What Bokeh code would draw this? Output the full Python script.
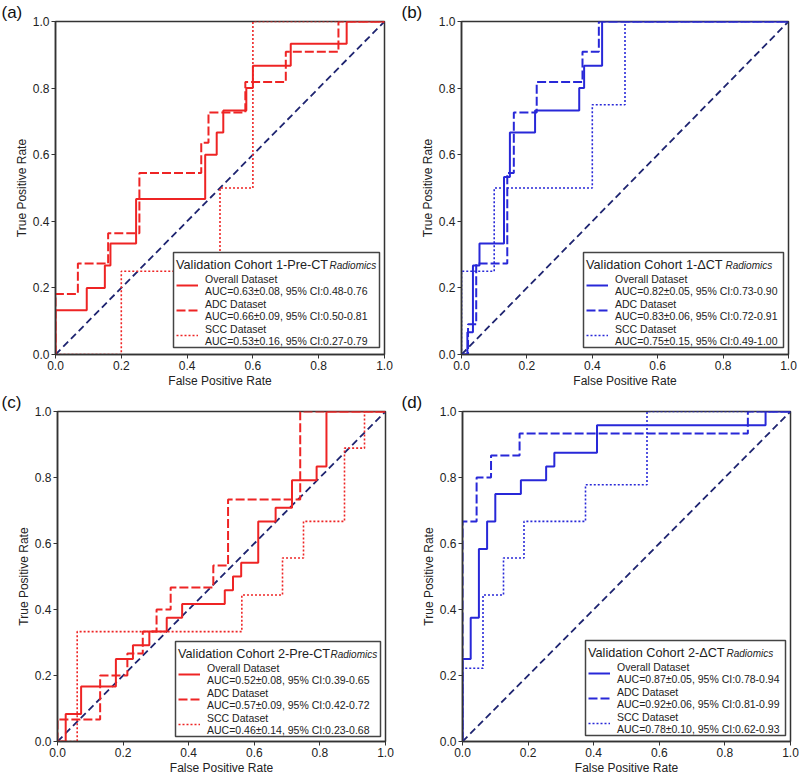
from bokeh.plotting import figure
from bokeh.layouts import column, row
from bokeh.models import (Legend, LegendItem, Label, FixedTicker, PrintfTickFormatter,
                          Range1d, BoxAnnotation)
from bokeh.embed import file_html
from bokeh.resources import INLINE

# ---------------- data (ROC step curves) ----------------
# Panel (a) Validation Cohort 1 - Pre-CT
a_overall_fpr = [0, 0, 0.095, 0.095, 0.15, 0.15, 0.167, 0.167, 0.245, 0.245, 0.455, 0.455, 0.49, 0.49, 0.51, 0.51, 0.58, 0.58, 0.6, 0.6, 0.715, 0.715, 0.885, 0.885, 1.0]
a_overall_tpr = [0, 0.133, 0.133, 0.2, 0.2, 0.267, 0.267, 0.333, 0.333, 0.467, 0.467, 0.6, 0.6, 0.667, 0.667, 0.733, 0.733, 0.8, 0.8, 0.867, 0.867, 0.933, 0.933, 1.0, 1.0]
a_adc_fpr = [0, 0, 0.068, 0.068, 0.16, 0.16, 0.255, 0.255, 0.443, 0.443, 0.465, 0.465, 0.577, 0.577, 0.7, 0.7, 0.86, 0.86, 1.0]
a_adc_tpr = [0, 0.182, 0.182, 0.273, 0.273, 0.364, 0.364, 0.545, 0.545, 0.636, 0.636, 0.727, 0.727, 0.818, 0.818, 0.909, 0.909, 1.0, 1.0]
a_scc_fpr = [0, 0.2, 0.2, 0.5, 0.5, 0.6, 0.6, 1.0]
a_scc_tpr = [0, 0, 0.25, 0.25, 0.5, 0.5, 1.0, 1.0]

# Panel (b) Validation Cohort 1 - Delta-CT
b_overall_fpr = [0, 0.018, 0.018, 0.035, 0.035, 0.055, 0.055, 0.13, 0.13, 0.148, 0.148, 0.225, 0.225, 0.36, 0.36, 0.375, 0.375, 0.43, 0.43, 1.0]
b_overall_tpr = [0, 0, 0.067, 0.067, 0.267, 0.267, 0.333, 0.333, 0.533, 0.533, 0.667, 0.667, 0.733, 0.733, 0.8, 0.8, 0.867, 0.867, 1.0, 1.0]
b_adc_fpr = [0, 0.02, 0.02, 0.045, 0.045, 0.14, 0.14, 0.16, 0.16, 0.23, 0.23, 0.37, 0.37, 0.42, 0.42, 1.0]
b_adc_tpr = [0, 0, 0.091, 0.091, 0.273, 0.273, 0.545, 0.545, 0.727, 0.727, 0.818, 0.818, 0.909, 0.909, 1.0, 1.0]
b_scc_fpr = [0, 0, 0.1, 0.1, 0.4, 0.4, 0.5, 0.5, 1.0]
b_scc_tpr = [0, 0.25, 0.25, 0.5, 0.5, 0.75, 0.75, 1.0, 1.0]

# Panel (c) Validation Cohort 2 - Pre-CT
c_overall_fpr = [0, 0.025, 0.025, 0.072, 0.072, 0.178, 0.178, 0.23, 0.23, 0.28, 0.28, 0.333, 0.333, 0.38, 0.38, 0.51, 0.51, 0.535, 0.535, 0.56, 0.56, 0.612, 0.612, 0.665, 0.665, 0.715, 0.715, 0.79, 0.79, 0.82, 0.82, 1.0]
c_overall_tpr = [0, 0, 0.083, 0.083, 0.167, 0.167, 0.25, 0.25, 0.292, 0.292, 0.333, 0.333, 0.375, 0.375, 0.417, 0.417, 0.458, 0.458, 0.5, 0.5, 0.542, 0.542, 0.667, 0.667, 0.708, 0.708, 0.792, 0.792, 0.833, 0.833, 1.0, 1.0]
c_adc_fpr = [0, 0, 0.13, 0.13, 0.213, 0.213, 0.26, 0.26, 0.302, 0.302, 0.345, 0.345, 0.475, 0.475, 0.52, 0.52, 0.74, 0.74, 1.0]
c_adc_tpr = [0, 0.067, 0.067, 0.2, 0.2, 0.267, 0.267, 0.333, 0.333, 0.4, 0.4, 0.467, 0.467, 0.533, 0.533, 0.733, 0.733, 1.0, 1.0]
c_scc_fpr = [0, 0.06, 0.06, 0.562, 0.562, 0.686, 0.686, 0.75, 0.75, 0.875, 0.875, 0.936, 0.936, 1.0]
c_scc_tpr = [0, 0, 0.333, 0.333, 0.444, 0.444, 0.556, 0.556, 0.667, 0.667, 0.889, 0.889, 1.0, 1.0]

# Panel (d) Validation Cohort 2 - Delta-CT
d_overall_fpr = [0, 0, 0.025, 0.025, 0.05, 0.05, 0.075, 0.075, 0.1, 0.1, 0.178, 0.178, 0.255, 0.255, 0.28, 0.28, 0.41, 0.41, 0.924, 0.924, 1.0]
d_overall_tpr = [0, 0.25, 0.25, 0.375, 0.375, 0.583, 0.583, 0.667, 0.667, 0.75, 0.75, 0.792, 0.792, 0.833, 0.833, 0.875, 0.875, 0.958, 0.958, 1.0, 1.0]
d_adc_fpr = [0, 0, 0.043, 0.043, 0.087, 0.087, 0.174, 0.174, 0.87, 0.87, 1.0]
d_adc_tpr = [0, 0.667, 0.667, 0.8, 0.8, 0.867, 0.867, 0.933, 0.933, 1.0, 1.0]
d_scc_fpr = [0, 0, 0.0625, 0.0625, 0.125, 0.125, 0.1875, 0.1875, 0.375, 0.375, 0.5625, 0.5625, 1.0]
d_scc_tpr = [0, 0.222, 0.222, 0.444, 0.444, 0.556, 0.556, 0.667, 0.667, 0.778, 0.778, 1.0, 1.0]

chance_x = [0, 1]
chance_y = [0, 1]

panel_letters = ["(a)", "(b)", "(c)", "(d)"]
legend_titles = ["Validation Cohort 1-Pre-CT", "Validation Cohort 1-\u0394CT",
                 "Validation Cohort 2-Pre-CT", "Validation Cohort 2-\u0394CT"]
subscript = "Radiomics"
series_names = ["Overall Dataset", "ADC Dataset", "SCC Dataset"]
auc_texts = [
    ["AUC=0.63\u00b10.08, 95% CI:0.48-0.76", "AUC=0.66\u00b10.09, 95% CI:0.50-0.81", "AUC=0.53\u00b10.16, 95% CI:0.27-0.79"],
    ["AUC=0.82\u00b10.05, 95% CI:0.73-0.90", "AUC=0.83\u00b10.06, 95% CI:0.72-0.91", "AUC=0.75\u00b10.15, 95% CI:0.49-1.00"],
    ["AUC=0.52\u00b10.08, 95% CI:0.39-0.65", "AUC=0.57\u00b10.09, 95% CI:0.42-0.72", "AUC=0.46\u00b10.14, 95% CI:0.23-0.68"],
    ["AUC=0.87\u00b10.05, 95% CI:0.78-0.94", "AUC=0.92\u00b10.06, 95% CI:0.81-0.99", "AUC=0.78\u00b10.10, 95% CI:0.62-0.93"],
]
ticks = [0, 0.2, 0.4, 0.6, 0.8, 1.0]

curves = [
    [(a_overall_fpr, a_overall_tpr), (a_adc_fpr, a_adc_tpr), (a_scc_fpr, a_scc_tpr)],
    [(b_overall_fpr, b_overall_tpr), (b_adc_fpr, b_adc_tpr), (b_scc_fpr, b_scc_tpr)],
    [(c_overall_fpr, c_overall_tpr), (c_adc_fpr, c_adc_tpr), (c_scc_fpr, c_scc_tpr)],
    [(d_overall_fpr, d_overall_tpr), (d_adc_fpr, d_adc_tpr), (d_scc_fpr, d_scc_tpr)],
]

RED = "#EE2424"
BLUE = "#2828D8"
NAVY = "#1E2470"
FONT = "Liberation Sans"

colors = [RED, BLUE, RED, BLUE]
styles = [("solid", 2.0), ("9 3", 2.0), ("2 2", 1.6)]

# layout geometry (screen pixels); box = legend frame (left, right, bottom, top) in px from frame's bottom-left
geom = [
    dict(w=400, h=390, bl=55, br=16, bt=19, bb=36, fw=329, fh=333, box=(118, 324, 7, 102), sub=(274, 89)),
    dict(w=400, h=390, bl=61, br=12, bt=19, bb=36, fw=327, fh=333, box=(122, 322, 7, 102), sub=(264, 89)),
    dict(w=400, h=387, bl=57, br=15, bt=17, bb=34, fw=328, fh=330, box=(118, 323, 5, 100), sub=(273, 87)),
    dict(w=400, h=387, bl=62, br=10, bt=17, bb=34, fw=328, fh=330, box=(123, 323, 6, 101), sub=(264, 88)),
]


def make_panel(i):
    g = geom[i]
    p = figure(width=g["w"], height=g["h"], output_backend="svg", toolbar_location=None,
               x_range=Range1d(0, 1), y_range=Range1d(0, 1),
               min_border_left=g["bl"], min_border_right=g["br"],
               min_border_top=g["bt"], min_border_bottom=g["bb"],
               title=panel_letters[i])
    p.title.align = "left"
    p.title.offset = -(g["bl"] - 1)
    p.title.standoff = 0
    p.title.text_font = FONT
    p.title.text_font_size = "17px"
    p.title.text_font_style = "normal"
    p.title.text_color = "#111111"
    p.title.text_line_height = 1.0

    p.grid.visible = False
    p.outline_line_color = "#333333"
    p.outline_line_width = 1.5
    p.background_fill_color = "white"
    p.border_fill_color = "white"
    for ax in (p.xaxis[0], p.yaxis[0]):
        ax.ticker = FixedTicker(ticks=ticks)
        ax.formatter = PrintfTickFormatter(format="%.1f")
        ax.minor_tick_line_color = None
        ax.major_tick_in = 0
        ax.major_tick_out = 4
        ax.major_tick_line_color = "#333333"
        ax.axis_line_color = "#333333"
        ax.axis_line_width = 1.5
        ax.major_label_text_font = FONT
        ax.major_label_text_font_size = "12px"
        ax.major_label_text_color = "#222222"
        ax.axis_label_text_font = FONT
        ax.axis_label_text_font_size = "12px"
        ax.axis_label_text_font_style = "normal"
        ax.axis_label_text_color = "#222222"
        ax.major_label_standoff = 2
        ax.axis_label_standoff = 1
    p.xaxis.axis_label = "False Positive Rate"
    p.yaxis.axis_label = "True Positive Rate"

    # chance diagonal
    p.line(chance_x, chance_y, line_color=NAVY, line_width=1.8, line_dash="7 4")

    items = []
    for k, (fx, ty) in enumerate(curves[i]):
        dash, lw = styles[k]
        r = p.line(fx, ty, line_color=colors[i], line_width=lw, line_dash=dash)
        items.append(LegendItem(label=series_names[k] + "\n" + auc_texts[i][k], renderers=[r]))

    # legend frame (white, opaque) drawn below the legend content
    bx0, bx1, by0, by1 = g["box"]
    fw, fh = g["fw"], g["fh"]
    frame_box = BoxAnnotation(left=bx0 / fw, right=bx1 / fw, bottom=by0 / fh, top=by1 / fh,
                              fill_color="white", fill_alpha=1.0,
                              line_color="#444444", line_width=1.5, line_alpha=1.0)
    p.add_layout(frame_box)

    leg = Legend(items=items, location=(bx0 + 3, by0),
                 title=legend_titles[i],
                 title_text_font=FONT, title_text_font_size="12.7px", title_text_font_style="normal",
                 title_text_color="#222222", title_standoff=1, title_text_line_height=1.0,
                 label_text_font=FONT, label_text_font_size="10.5px", label_text_color="#222222",
                 label_text_line_height=0.85, label_standoff=7,
                 glyph_width=22, glyph_height=18, label_height=18, spacing=1,
                 padding=3, margin=0,
                 border_line_color=None, background_fill_alpha=0.0)
    p.add_layout(leg, "center")

    sub = Label(x=g["sub"][0] / fw, y=g["sub"][1] / fh, text=subscript, text_baseline="middle",
                text_font=FONT, text_font_size="10px", text_font_style="italic",
                text_color="#222222")
    p.add_layout(sub)
    return p


panels = [make_panel(i) for i in range(4)]

layout = column(row(panels[0], panels[1]), row(panels[2], panels[3]))
open("out.html", "w").write(file_html(layout, INLINE))
